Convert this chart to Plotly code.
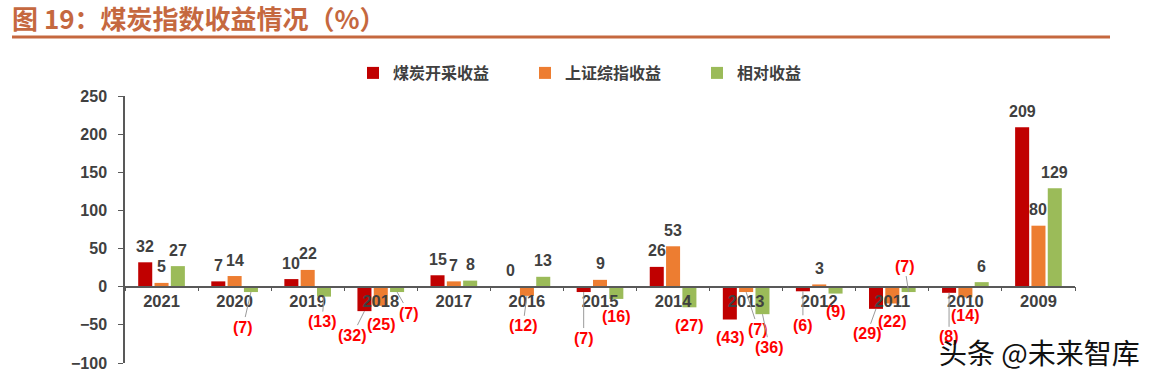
import plotly.graph_objects as go

# ---------------- data ----------------
years = ["2021", "2020", "2019", "2018", "2017", "2016", "2015",
         "2014", "2013", "2012", "2011", "2010", "2009"]
coal_returns = [32, 7, 10, -32, 15, 0, -7, 26, -43, -6, -29, -8, 209]
sse_returns = [5, 14, 22, -25, 7, -12, 9, 53, -7, 3, -22, -14, 80]
relative_returns = [27, -7, -13, -7, 8, 13, -16, -27, -36, -9, -7, 6, 129]
series_names = ["煤炭开采收益", "上证综指收益", "相对收益"]
y_ticks = [-100, -50, 0, 50, 100, 150, 200, 250]

# ---------------- style ----------------
colors = ["#C00000", "#ED7D31", "#9BBB59"]
W, H = 1166, 383
M = dict(l=125, r=W - 1075, t=96, b=H - 363)
Y_RANGE = [-100, 250]
BARGAP = 0.33
BARGROUPGAP = 0.14
NUM_FONT = "Liberation Sans, Arial, Noto Sans CJK SC"
CJK_FONT = "Noto Sans CJK SC, Liberation Sans"
DARK = "#404040"
NEG = "#FF0000"
TITLE_COLOR = "#C5683F"

# label placement tweaks: (dx, dy) pixel offset of label centre from bar end, leader line
label_tweaks = {
    ("2020", 2): (-8, 35, True),
    ("2019", 2): (-2, 25, True),
    ("2018", 0): (-12, 24, True),
    ("2018", 1): (0, 19, False),
    ("2018", 2): (12, 21, True),
    ("2016", 1): (-4, 30, True),
    ("2015", 0): (0, 46, True),
    ("2014", 2): (0, 18, False),
    ("2013", 1): (12, 37, True),
    ("2013", 2): (7, 33, True),
    ("2012", 0): (0, 34, True),
    ("2011", 0): (-9, 25, True),
    ("2011", 2): (-4, -26, True),
    ("2010", 0): (0, 44, True),
}

series_values = [coal_returns, sse_returns, relative_returns]

fig = go.Figure()
for name, vals, col in zip(series_names, series_values, colors):
    fig.add_trace(go.Bar(
        x=years, y=vals, name="<b>" + name + "</b>",
        marker=dict(color=col, line=dict(width=0)),
    ))

# pixel geometry for label placement
plot_w = W - M["l"] - M["r"]
plot_h = H - M["t"] - M["b"]
cat_w = plot_w / len(years)
slot = cat_w * (1 - BARGAP) / 3

annotations = []
for si, vals in enumerate(series_values):
    xoff = (si - 1) * slot
    for ci, (yr, v) in enumerate(zip(years, vals)):
        if v >= 0:
            txt = "<b>%d</b>" % v
            fcol = DARK
            dx, dy, leader = 0, -16, False
        else:
            txt = "<b>(%d)</b>" % abs(v)
            fcol = NEG
            dx, dy, leader = 0, 18, False
        if (yr, si) in label_tweaks:
            dx, dy, leader = label_tweaks[(yr, si)]
        annotations.append(dict(
            x=ci, y=v, xref="x", yref="y", xshift=xoff,
            text=txt, showarrow=True, arrowhead=0, arrowwidth=1,
            arrowcolor="#9A9A9A" if leader else "rgba(0,0,0,0)",
            ax=dx, ay=dy, standoff=0,
            font=dict(family=NUM_FONT, size=16, color=fcol),
        ))

# helpers: page pixel -> paper coordinates
def px_x(p):
    return (p - M["l"]) / plot_w

def px_y(p):
    return (H - M["b"] - p) / plot_h

# watermark
annotations.append(dict(
    x=px_x(937), y=px_y(352), xref="paper", yref="paper",
    xanchor="left", yanchor="middle",
    text="头条 @未来智库", showarrow=False,
    font=dict(family=CJK_FONT, size=28, color="#111111"),
))

zero_pos = (0 - Y_RANGE[0]) / (Y_RANGE[1] - Y_RANGE[0])

fig.update_layout(
    width=W, height=H, margin=dict(M, autoexpand=False),
    paper_bgcolor="white", plot_bgcolor="white",
    barmode="group", bargap=BARGAP, bargroupgap=BARGROUPGAP,
    title=dict(
        text="<b>图 19：煤炭指数收益情况（%）</b>",
        x=12 / W, xanchor="left", xref="container",
        y=1 - 20 / H, yanchor="middle", yref="container",
        pad=dict(l=0, r=0, t=0, b=0),
        font=dict(family=CJK_FONT, size=26, color=TITLE_COLOR),
    ),
    showlegend=True,
    legend=dict(
        orientation="h", x=px_x(353), xanchor="left",
        y=px_y(73), yanchor="middle",
        font=dict(family=CJK_FONT, size=16, color=DARK),
        entrywidth=127, entrywidthmode="pixels",
        itemwidth=30, bgcolor="rgba(0,0,0,0)",
    ),
    xaxis=dict(
        type="category", range=[-0.5, len(years) - 0.5], autorange=False,
        anchor="free", position=zero_pos, automargin=False,
        showline=True, linecolor="#595959", linewidth=1.5,
        ticks="outside", tickson="boundaries", ticklen=4, tickcolor="#595959",
        tickfont=dict(family=NUM_FONT, size=16.5, color=DARK, weight="bold"),
        showgrid=False, zeroline=False,
    ),
    yaxis=dict(
        range=Y_RANGE, autorange=False, tickvals=y_ticks, automargin=False,
        showline=True, linecolor="#595959", linewidth=1.5,
        ticks="outside", ticklen=5, tickcolor="#595959", ticklabelstandoff=8,
        tickfont=dict(family=NUM_FONT, size=16, color=DARK, weight="bold"),
        showgrid=False, zeroline=False,
    ),
    annotations=annotations,
    shapes=[dict(
        type="line", xref="paper", yref="paper",
        x0=px_x(12), x1=px_x(1110), y0=px_y(37), y1=px_y(37),
        line=dict(color=TITLE_COLOR, width=3),
    )],
)

fig.write_html(
    "out.html",
    config={"displayModeBar": False},
    post_script="document.body.style.margin='0';document.body.style.overflow='hidden';",
)
